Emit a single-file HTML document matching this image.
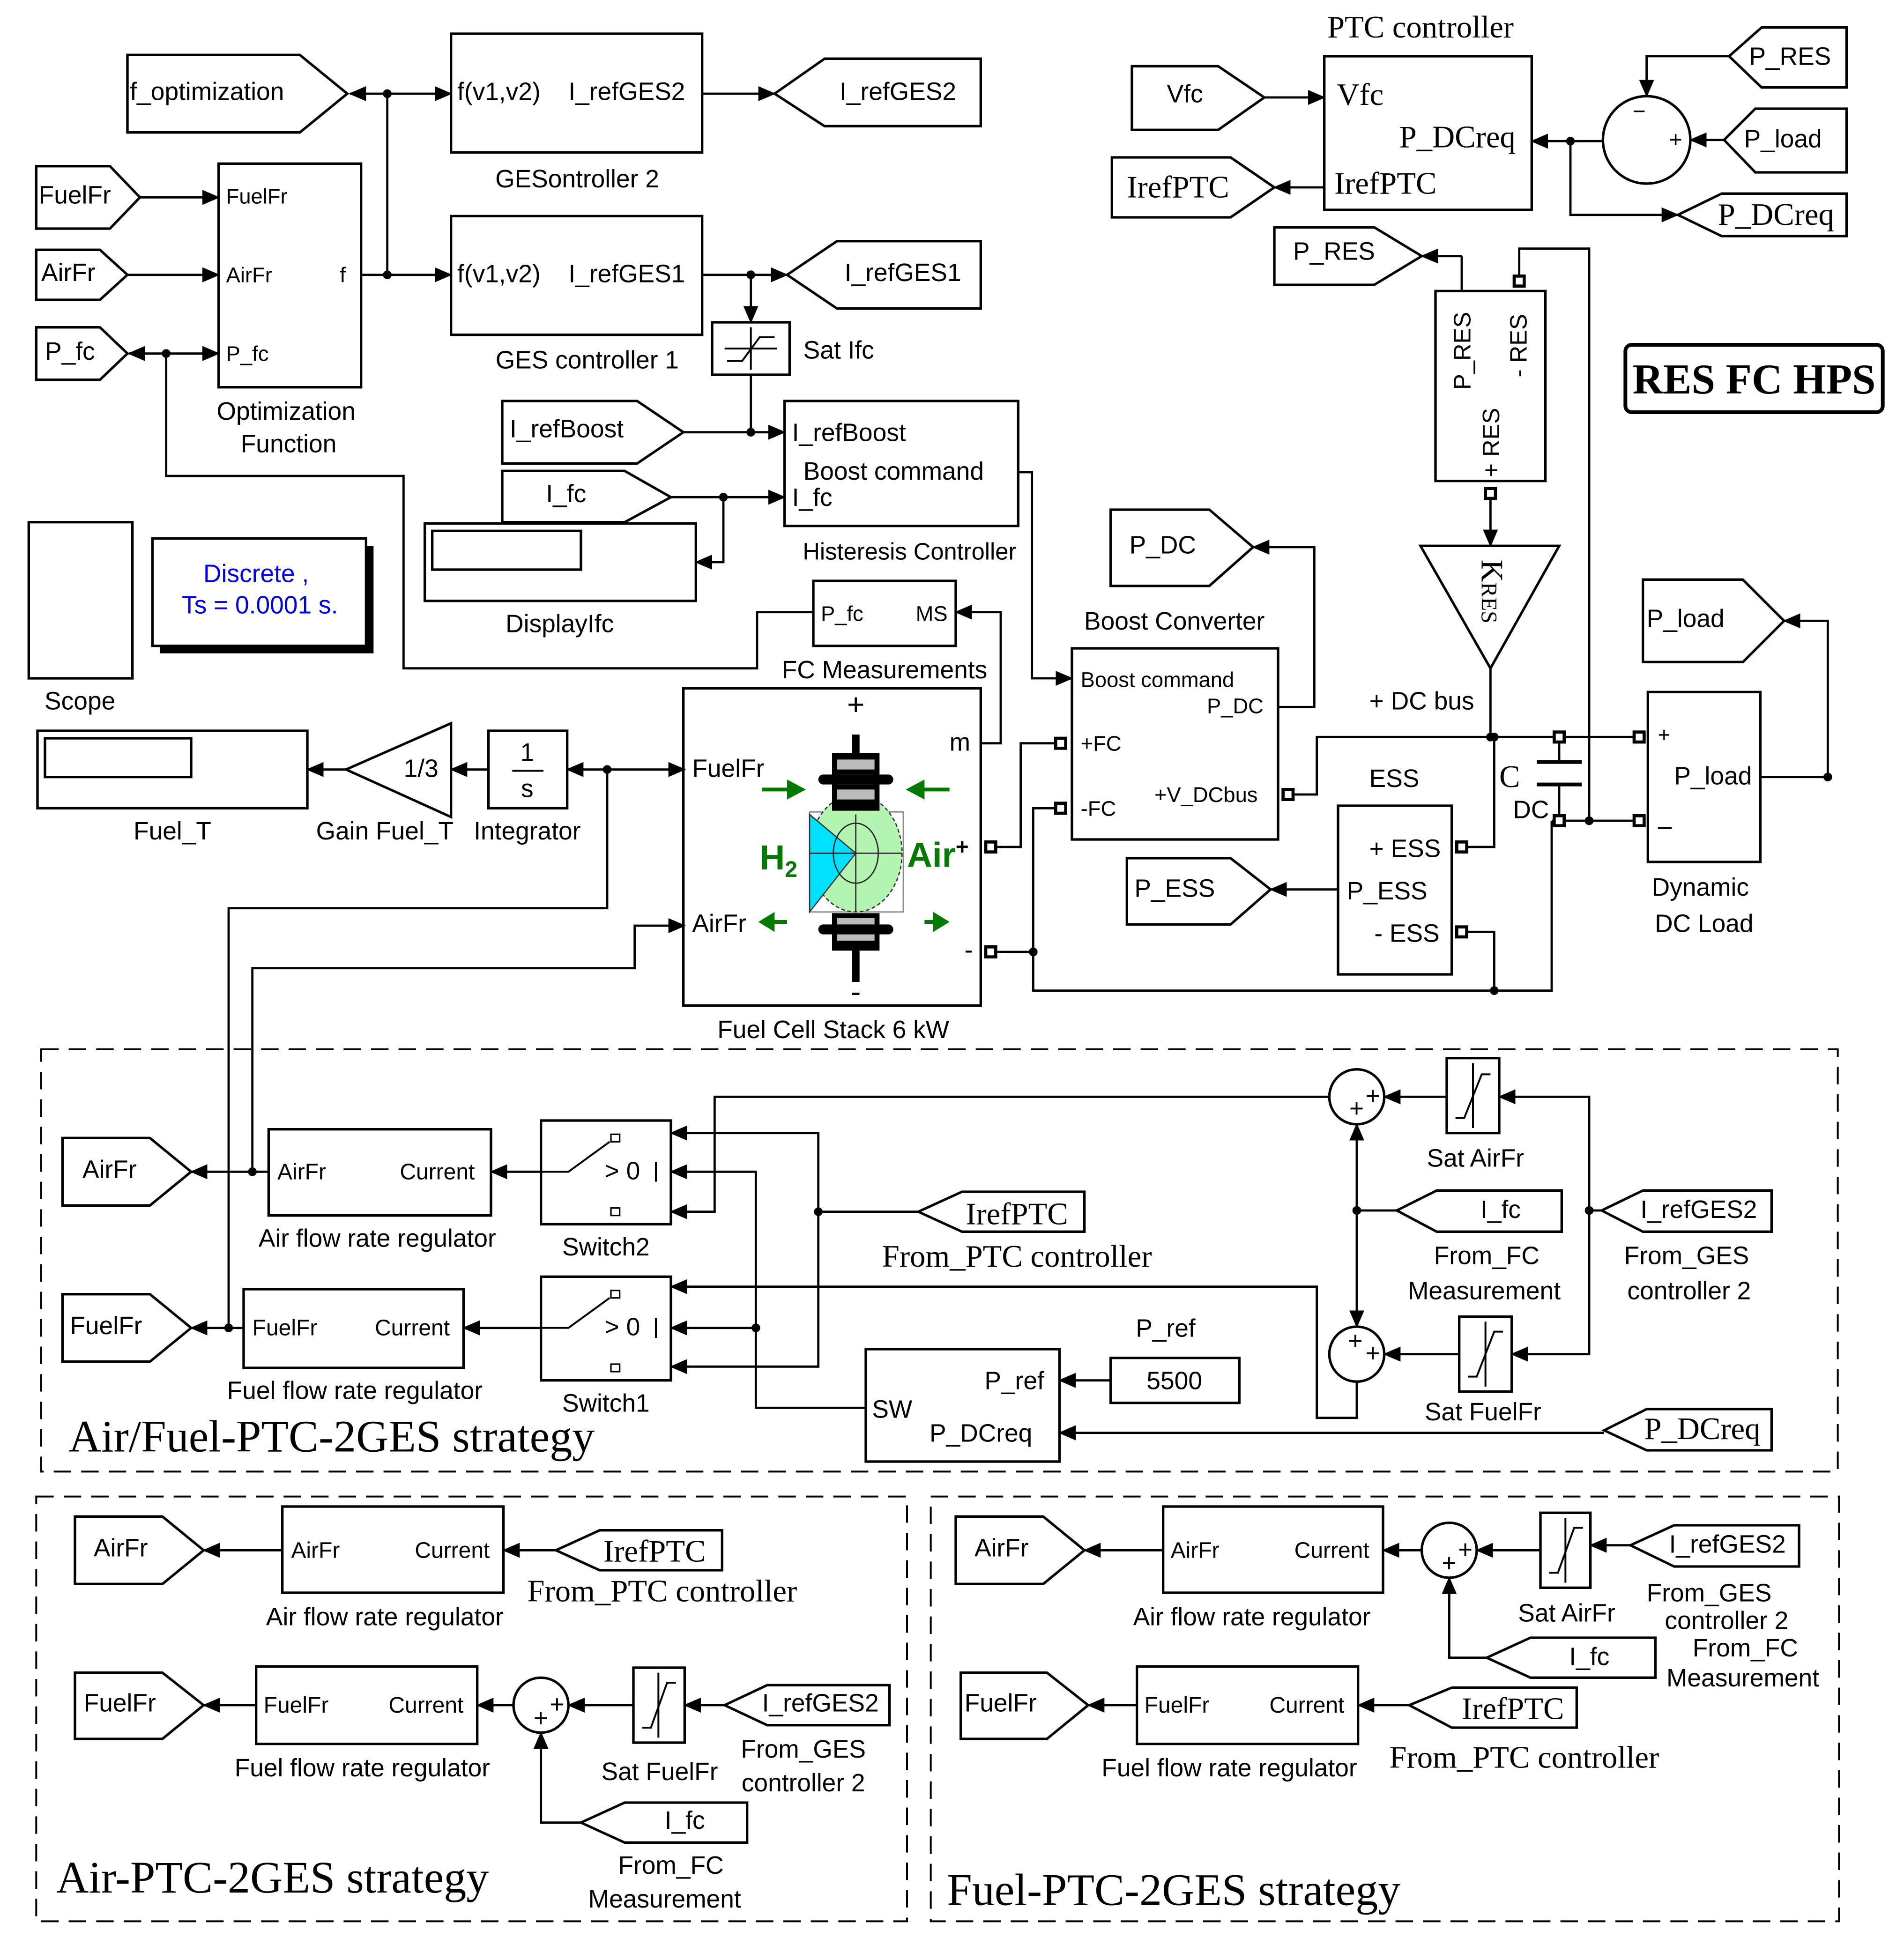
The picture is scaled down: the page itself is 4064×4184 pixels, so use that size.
<!DOCTYPE html>
<html><head><meta charset="utf-8"><style>
html,body{margin:0;padding:0;background:#fff;}
svg{display:block;}
text{font-family:"Liberation Sans",sans-serif;font-size:20px;fill:#000;}
.s{font-family:"Liberation Serif",serif;font-size:25px;}
.b{font-size:36px;font-family:"Liberation Serif",serif;}
.c{text-anchor:middle;}
</style></head><body>
<svg width="4064" height="4184" viewBox="0 0 1524 1569" xmlns="http://www.w3.org/2000/svg">
<defs>
<marker id="a" markerUnits="userSpaceOnUse" markerWidth="14" markerHeight="12" refX="13" refY="6" orient="auto"><path d="M0,0 L14,6 L0,12 z" fill="#000"/></marker>
</defs>
<rect width="1524" height="1569" fill="#fff"/>
<g fill="none" stroke="#000" stroke-width="2">
<polygon points="102,44 240,44 278,75 240,106 102,106"/>
<polygon points="620,75 660,47 785,47 785,101 660,101"/>
<polygon points="630,220 670,193 785,193 785,247 670,247"/>
<polygon points="29,133 88,133 112,158 88,183 29,183"/>
<polygon points="29,200 80,200 102,220 80,240 29,240"/>
<polygon points="29,262 80,262 102,283 80,304 29,304"/>
<polygon points="402,321 510,321 547,346 510,371 402,371"/>
<polygon points="402,377 500,377 537,398 500,418 402,418"/>
<polygon points="889,408 968,408 1003,438 968,469 889,469"/>
<polygon points="1020,182 1100,182 1138,205 1100,228 1020,228"/>
<polygon points="902,687 985,687 1017,712 985,740 902,740"/>
<polygon points="1315,464 1395,464 1428,497 1395,530 1315,530"/>
<polygon points="906,53 975,53 1012,78 975,104 906,104"/>
<polygon points="890,126 985,126 1020,150 985,174 890,174"/>
<polygon points="1384,45 1410,22 1478,22 1478,70 1410,70"/>
<polygon points="1380,112 1405,87 1478,87 1478,138 1405,138"/>
<polygon points="1343,172 1378,155 1478,155 1478,189 1378,189"/>
<polygon points="1282,969 1315,953 1418,953 1418,986 1315,986"/>
<polygon points="1118,969 1150,953 1250,953 1250,986 1150,986"/>
<polygon points="50,911 120,911 153,938 120,965 50,965"/>
<polygon points="50,1036 120,1036 153,1063 120,1090 50,1090"/>
<polygon points="735,970 770,954 868,954 868,986 770,986"/>
<polygon points="1284,1145 1318,1128 1418,1128 1418,1161 1318,1161"/>
<polygon points="60,1214 130,1214 163,1241 130,1268 60,1268"/>
<polygon points="445,1241 480,1225 578,1225 578,1257 480,1257"/>
<polygon points="60,1339 130,1339 163,1365 130,1392 60,1392"/>
<polygon points="580,1365 614,1349 712,1349 712,1381 614,1381"/>
<polygon points="465,1459 500,1443 598,1443 598,1475 500,1475"/>
<polygon points="765,1214 835,1214 868,1241 835,1268 765,1268"/>
<polygon points="1305,1237 1340,1221 1440,1221 1440,1254 1340,1254"/>
<polygon points="1190,1327 1225,1311 1325,1311 1325,1343 1225,1343"/>
<polygon points="769,1339 838,1339 871,1365 838,1392 769,1392"/>
<polygon points="1128,1365 1162,1351 1262,1351 1262,1383 1162,1383"/>
<rect x="361" y="27" width="201" height="95"/>
<rect x="361" y="173" width="201" height="95"/>
<rect x="175" y="131" width="114" height="179"/>
<rect x="570" y="258" width="62" height="42"/>
<rect x="628" y="321" width="187" height="100"/>
<rect x="340" y="419" width="217" height="62"/>
<rect x="346" y="425" width="119" height="31"/>
<rect x="23" y="418" width="83" height="125"/>
<rect x="30" y="585" width="216" height="62"/>
<rect x="36" y="591" width="117" height="31"/>
<polygon points="361,579 361,654 277,616"/>
<rect x="391" y="585" width="63" height="62"/>
<rect x="547" y="551" width="238" height="254"/>
<rect x="651" y="465" width="114" height="52"/>
<rect x="858" y="519" width="165" height="153"/>
<rect x="1149" y="233" width="88" height="152"/>
<polygon points="1137,437 1248,437 1193,535"/>
<rect x="1071" y="645" width="91" height="135"/>
<rect x="1319" y="554" width="90" height="136"/>
<rect x="1301" y="276" width="206" height="54" rx="5" stroke-width="3"/>
<rect x="1060" y="45" width="166" height="123"/>
<circle cx="1318" cy="112" r="35"/>
<circle cx="1086" cy="878" r="22"/>
<circle cx="1086" cy="1084" r="22"/>
<rect x="1158" y="847" width="42" height="60"/>
<rect x="1168" y="1054" width="42" height="60"/>
<rect x="433" y="897" width="104" height="83"/>
<rect x="433" y="1022" width="104" height="83"/>
<rect x="215" y="904" width="178" height="69"/>
<rect x="195" y="1032" width="176" height="63"/>
<rect x="693" y="1080" width="155" height="90"/>
<rect x="889" y="1087" width="103" height="36"/>
<rect x="226" y="1206" width="177" height="69"/>
<rect x="205" y="1334" width="177" height="62"/>
<circle cx="433" cy="1365" r="22"/>
<rect x="507" y="1335" width="41" height="60"/>
<rect x="931" y="1206" width="176" height="69"/>
<rect x="910" y="1334" width="177" height="62"/>
<circle cx="1160" cy="1241" r="22"/>
<rect x="1233" y="1211" width="40" height="60"/>
<path d="M582,289 L594,289 L608,270 L620,270 M580,279 L622,279 M601,262 L601,296" stroke-width="1.5"/>
<path d="M1165,895 L1172,895 L1186,860 L1193,860 M1179,851 L1179,903" stroke-width="1.5"/>
<path d="M1175,1102 L1182,1102 L1196,1066 L1203,1066 M1189,1058 L1189,1110" stroke-width="1.5"/>
<path d="M514,1383 L521,1383 L534,1347 L541,1347 M527,1339 L527,1391" stroke-width="1.5"/>
<path d="M1240,1259 L1247,1259 L1260,1223 L1267,1223 M1253,1215 L1253,1267" stroke-width="1.5"/>
<line x1="410" y1="617" x2="435" y2="617" stroke-width="1.5"/>
<rect x="33" y="840" width="1438" height="338" stroke-dasharray="14,8" stroke-width="1.5"/>
<rect x="29" y="1198" width="697" height="340" stroke-dasharray="14,8" stroke-width="1.5"/>
<rect x="745" y="1198" width="727" height="340" stroke-dasharray="14,8" stroke-width="1.5"/>
<line x1="1230" y1="610" x2="1266" y2="610" stroke-width="3"/>
<line x1="1230" y1="628" x2="1266" y2="628" stroke-width="3"/>
<!-- switch glyphs -->
<path d="M433,938 L455,938 L488,914 M433,1063 L455,1063 L488,1039 M525,930 L525,946 M525,1055 L525,1071" stroke-width="1.5"/>
<g stroke-width="1.2"><rect x="489" y="908" width="7" height="6"/><rect x="489" y="967" width="7" height="6"/>
<rect x="489" y="1033" width="7" height="6"/><rect x="489" y="1092" width="7" height="6"/></g>
</g>
<rect x="128" y="437" width="171" height="86" fill="#000"/>
<rect x="122" y="431" width="171" height="86" fill="#fff" stroke="#000" stroke-width="2"/>
<g fill="none" stroke="#000" stroke-width="1.8">
<polyline points="289,220 310,220 310,75 280,75" marker-end="url(#a)"/>
<polyline points="310,75 361,75" marker-end="url(#a)"/>
<polyline points="310,220 361,220" marker-end="url(#a)"/>
<polyline points="562,75 620,75" marker-end="url(#a)"/>
<polyline points="562,220 630,220" marker-end="url(#a)"/>
<polyline points="601,220 601,258" marker-end="url(#a)"/>
<polyline points="112,158 175,158" marker-end="url(#a)"/>
<polyline points="102,220 175,220" marker-end="url(#a)"/>
<polyline points="133,283 175,283" marker-end="url(#a)"/>
<polyline points="133,283 103,283" marker-end="url(#a)"/>
<polyline points="651,490 606,490 606,535 323,535 323,381 133,381 133,283"/>
<polyline points="601,300 601,346"/>
<polyline points="547,346 628,346" marker-end="url(#a)"/>
<polyline points="537,398 628,398" marker-end="url(#a)"/>
<polyline points="579,398 579,450 557,450" marker-end="url(#a)"/>
<polyline points="815,378 826,378 826,543 858,543" marker-end="url(#a)"/>
<polyline points="391,616 361,616" marker-end="url(#a)"/>
<polyline points="277,616 246,616" marker-end="url(#a)"/>
<polyline points="486,616 454,616" marker-end="url(#a)"/>
<polyline points="486,616 548,616" marker-end="url(#a)"/>
<polyline points="183,1063 183,727 486,727 486,616"/>
<polyline points="202,938 202,775 508,775 508,741 548,741" marker-end="url(#a)"/>
<polyline points="785,595 801,595 801,490 765,490" marker-end="url(#a)"/>
<polyline points="797,678 817,678 817,595 849,595"/>
<polyline points="797,762 827,762 827,647 849,647"/>
<polyline points="827,762 827,793 1242,793 1242,657"/>
<polyline points="1023,566 1052,566 1052,438 1003,438" marker-end="url(#a)"/>
<polyline points="1031,636 1054,636 1054,590 1312,590"/>
<polyline points="1170,205 1170,233"/>
<polyline points="1170,205 1138,205" marker-end="url(#a)"/>
<polyline points="1216,225 1216,199 1272,199 1272,657"/>
<polyline points="1193,395 1193,437" marker-end="url(#a)"/>
<polyline points="1193,535 1193,590"/>
<polyline points="1248,590 1248,610"/>
<polyline points="1248,628 1248,657"/>
<polyline points="1242,657 1312,657"/>
<polyline points="1170,678 1196,678 1196,590"/>
<polyline points="1170,746 1196,746 1196,793"/>
<polyline points="1071,712 1017,712" marker-end="url(#a)"/>
<polyline points="1409,622 1463,622 1463,497 1428,497" marker-end="url(#a)"/>
<polyline points="1012,78 1060,78" marker-end="url(#a)"/>
<polyline points="1060,150 1020,150" marker-end="url(#a)"/>
<polyline points="1283,113 1226,113" marker-end="url(#a)"/>
<polyline points="1257,113 1257,172 1343,172" marker-end="url(#a)"/>
<polyline points="1384,45 1318,45 1318,77" marker-end="url(#a)"/>
<polyline points="1380,112 1353,112" marker-end="url(#a)"/>
<polyline points="1282,969 1272,969 1272,878 1200,878" marker-end="url(#a)"/>
<polyline points="1272,969 1272,1084 1210,1084" marker-end="url(#a)"/>
<polyline points="1158,878 1108,878" marker-end="url(#a)"/>
<polyline points="1168,1084 1108,1084" marker-end="url(#a)"/>
<polyline points="1118,969 1086,969 1086,900" marker-end="url(#a)"/>
<polyline points="1086,969 1086,1062" marker-end="url(#a)"/>
<polyline points="1064,878 572,878 572,970 537,970" marker-end="url(#a)"/>
<polyline points="1086,1106 1086,1135 1054,1135 1054,1030 537,1030" marker-end="url(#a)"/>
<polyline points="735,970 655,970 655,907 537,907" marker-end="url(#a)"/>
<polyline points="655,970 655,1094 537,1094" marker-end="url(#a)"/>
<polyline points="693,1127 605,1127 605,938 537,938" marker-end="url(#a)"/>
<polyline points="605,1063 537,1063" marker-end="url(#a)"/>
<polyline points="433,938 393,938" marker-end="url(#a)"/>
<polyline points="433,1063 371,1063" marker-end="url(#a)"/>
<polyline points="215,938 153,938" marker-end="url(#a)"/>
<polyline points="195,1063 153,1063" marker-end="url(#a)"/>
<polyline points="889,1105 848,1105" marker-end="url(#a)"/>
<polyline points="1284,1147 848,1147" marker-end="url(#a)"/>
<polyline points="226,1241 163,1241" marker-end="url(#a)"/>
<polyline points="445,1241 403,1241" marker-end="url(#a)"/>
<polyline points="205,1365 163,1365" marker-end="url(#a)"/>
<polyline points="411,1365 382,1365" marker-end="url(#a)"/>
<polyline points="507,1365 455,1365" marker-end="url(#a)"/>
<polyline points="580,1365 548,1365" marker-end="url(#a)"/>
<polyline points="465,1459 433,1459 433,1387" marker-end="url(#a)"/>
<polyline points="931,1241 868,1241" marker-end="url(#a)"/>
<polyline points="1138,1241 1107,1241" marker-end="url(#a)"/>
<polyline points="1233,1241 1182,1241" marker-end="url(#a)"/>
<polyline points="1305,1237 1273,1237" marker-end="url(#a)"/>
<polyline points="1190,1327 1160,1327 1160,1263" marker-end="url(#a)"/>
<polyline points="910,1365 871,1365" marker-end="url(#a)"/>
<polyline points="1128,1365 1087,1365" marker-end="url(#a)"/>
</g>
<g fill="#000">
<circle cx="310" cy="75" r="3.5"/><circle cx="310" cy="220" r="3.5"/><circle cx="601" cy="220" r="3.5"/>
<circle cx="601" cy="346" r="3.5"/><circle cx="579" cy="398" r="3.5"/><circle cx="133" cy="283" r="3.5"/>
<circle cx="486" cy="616" r="3.5"/><circle cx="827" cy="762" r="3.5"/><circle cx="1196" cy="793" r="3.5"/>
<circle cx="1196" cy="590" r="3.5"/><circle cx="1193" cy="590" r="3.5"/><circle cx="1272" cy="657" r="3.5"/>
<circle cx="1463" cy="622" r="3.5"/><circle cx="1257" cy="113" r="3.5"/><circle cx="1272" cy="969" r="3.5"/>
<circle cx="1086" cy="969" r="3.5"/><circle cx="655" cy="970" r="3.5"/><circle cx="605" cy="1063" r="3.5"/>
<circle cx="202" cy="938" r="3.5"/><circle cx="183" cy="1063" r="3.5"/>
</g>
<g fill="#fff" stroke="#000" stroke-width="2.5">
<rect x="789" y="674" width="8" height="8"/><rect x="789" y="758" width="8" height="8"/>
<rect x="845" y="591" width="8" height="8"/><rect x="845" y="643" width="8" height="8"/>
<rect x="1027" y="632" width="8" height="8"/>
<rect x="1166" y="674" width="8" height="8"/><rect x="1166" y="742" width="8" height="8"/>
<rect x="1244" y="586" width="8" height="8"/><rect x="1244" y="653" width="8" height="8"/>
<rect x="1308" y="586" width="8" height="8"/><rect x="1308" y="653" width="8" height="8"/>
<rect x="1212" y="221" width="8" height="8"/><rect x="1189" y="391" width="8" height="8"/>
</g>
<rect x="648" y="650" width="75" height="80" fill="#fff" stroke="#888" stroke-width="1"/>
<ellipse cx="685" cy="683" rx="37" ry="47" fill="#b3f5b0" stroke="#333" stroke-width="1" stroke-dasharray="3,2"/>
<polygon points="648,652 685,683 648,730" fill="#00e0ff" stroke="#333" stroke-width="1"/>
<g stroke="#222" stroke-width="1" fill="none"><line x1="648" y1="683" x2="722" y2="683"/><line x1="685" y1="652" x2="685" y2="730"/><ellipse cx="685" cy="683" rx="18" ry="24"/></g>
<rect x="666" y="603" width="38" height="46" fill="#000"/>
<rect x="670" y="608" width="30" height="8" fill="#bbb"/><rect x="670" y="620" width="30" height="8" fill="#bbb"/><rect x="670" y="632" width="30" height="8" fill="#bbb"/>
<rect x="655" y="620" width="60" height="8" rx="4" fill="#000"/><rect x="682" y="588" width="6" height="18" fill="#000"/>
<rect x="666" y="731" width="38" height="30" fill="#000"/>
<rect x="670" y="735" width="30" height="7" fill="#bbb"/><rect x="670" y="746" width="30" height="7" fill="#bbb"/>
<rect x="655" y="740" width="60" height="8" rx="4" fill="#000"/><rect x="682" y="758" width="6" height="28" fill="#000"/>
<g stroke="#007a00" stroke-width="3" fill="#007a00">
<line x1="610" y1="632" x2="632" y2="632"/><polygon points="645,632 630,624 630,640" stroke="none"/>
<line x1="760" y1="632" x2="738" y2="632"/><polygon points="725,632 740,624 740,640" stroke="none"/>
<line x1="630" y1="738" x2="612" y2="738"/><polygon points="607,738 620,730 620,746" stroke="none"/>
<line x1="740" y1="738" x2="752" y2="738"/><polygon points="760,738 747,730 747,746" stroke="none"/>
</g>
<text x="608" y="696" style="font-size:28px;font-weight:bold;fill:#007a00">H<tspan style="font-size:18px" dy="6">2</tspan></text>
<text x="726" y="694" style="font-size:28px;font-weight:bold;fill:#007a00">Air<tspan style="font-size:18px" dy="-10" fill="#000">+</tspan></text>
<text x="104" y="80">f_optimization</text>
<text x="366" y="80">f(v1,v2)</text><text x="455" y="80">I_refGES2</text>
<text x="462" y="150" class="c">GESontroller 2</text>
<text x="672" y="80">I_refGES2</text>
<text x="366" y="226">f(v1,v2)</text><text x="455" y="226">I_refGES1</text>
<text x="470" y="295" class="c">GES controller 1</text>
<text x="676" y="225">I_refGES1</text>
<text x="643" y="287">Sat Ifc</text>
<text x="31" y="163">FuelFr</text><text x="33" y="225">AirFr</text><text x="36" y="288">P_fc</text>
<text x="181" y="163" style="font-size:17px">FuelFr</text><text x="181" y="226" style="font-size:17px">AirFr</text>
<text x="272" y="226" style="font-size:17px">f</text><text x="181" y="289" style="font-size:17px">P_fc</text>
<text x="229" y="336" class="c">Optimization</text><text x="231" y="362" class="c">Function</text>
<text x="408" y="350">I_refBoost</text><text x="437" y="402">I_fc</text>
<text x="634" y="353">I_refBoost</text><text x="643" y="384">Boost  command</text><text x="634" y="405">I_fc</text>
<text x="728" y="448" class="c" style="font-size:19px">Histeresis Controller</text>
<text x="448" y="506" class="c">DisplayIfc</text>
<text x="64" y="568" class="c">Scope</text>
<text x="205" y="466" class="c" style="fill:#0000ee">Discrete ,</text>
<text x="208" y="491" class="c" style="fill:#0000ee">Ts = 0.0001 s.</text>
<text x="337" y="622" class="c">1/3</text>
<text x="422" y="609" class="c">1</text><text x="422" y="638" class="c">s</text>
<text x="138" y="672" class="c">Fuel_T</text><text x="308" y="672" class="c">Gain Fuel_T</text><text x="422" y="672" class="c">Integrator</text>
<text x="685" y="572" class="c" style="font-size:24px">+</text><text x="685" y="802" class="c" style="font-size:24px">-</text>
<text x="554" y="622">FuelFr</text><text x="554" y="746">AirFr</text><text x="760" y="601">m</text><text x="772" y="767">-</text>
<text x="667" y="831" class="c">Fuel Cell Stack 6 kW</text>
<text x="657" y="497" style="font-size:17px">P_fc</text><text x="733" y="497" style="font-size:17px">MS</text>
<text x="708" y="543" class="c">FC Measurements</text>
<text x="940" y="504" class="c">Boost Converter</text>
<text x="865" y="550" style="font-size:17px">Boost command</text><text x="966" y="571" style="font-size:17px">P_DC</text>
<text x="865" y="601" style="font-size:17px">+FC</text><text x="865" y="653" style="font-size:17px">-FC</text>
<text x="924" y="642" style="font-size:17px">+V_DCbus</text>
<text x="904" y="443">P_DC</text>
<text x="1035" y="208">P_RES</text>
<text x="1138" y="568" class="c">+ DC bus</text>
<text x="1116" y="630" class="c">ESS</text>
<text x="1096" y="686">+ ESS</text><text x="1078" y="720">P_ESS</text><text x="1100" y="754">- ESS</text>
<text x="908" y="718">P_ESS</text>
<text x="1200" y="630" class="s">C</text><text x="1211" y="655">DC</text>
<text x="1327" y="594" style="font-size:17px">+</text><text x="1340" y="628">P_load</text><text x="1327" y="668">–</text>
<text x="1361" y="717" class="c">Dynamic</text><text x="1364" y="746" class="c">DC Load</text>
<text x="1318" y="502">P_load</text>
<text x="1404" y="315" class="c" style="font-family:'Liberation Serif',serif;font-size:34px;font-weight:bold">RES FC HPS</text>
<text transform="translate(1177,312) rotate(-90)" style="font-size:19px">P_RES</text>
<text transform="translate(1222,302) rotate(-90)" style="font-size:19px">- RES</text>
<text transform="translate(1200,382) rotate(-90)" style="font-size:19px">+ RES</text>
<text transform="translate(1186,448) rotate(90)" class="s">K<tspan style="font-size:18px">RES</tspan></text>
<text x="1137" y="30" class="s c">PTC controller</text>
<text x="1070" y="84" class="s">Vfc</text><text x="1120" y="118" class="s">P_DCreq</text><text x="1068" y="155" class="s">IrefPTC</text>
<text x="934" y="82">Vfc</text><text x="902" y="158" class="s">IrefPTC</text>
<text x="1400" y="52">P_RES</text><text x="1396" y="118">P_load</text><text x="1375" y="180" class="s">P_DCreq</text>
<text x="1312" y="95" class="c" style="font-size:18px">−</text><text x="1336" y="118" style="font-size:18px">+</text>
<g style="font-size:14px"><text x="1093" y="884">+</text><text x="1080" y="894">+</text>
<text x="1093" y="1090">+</text><text x="1079" y="1080">+</text>
<text x="440" y="1371">+</text><text x="427" y="1382">+</text>
<text x="1167" y="1247">+</text><text x="1154" y="1258">+</text></g>
<text x="1181" y="934" class="c">Sat AirFr</text><text x="1187" y="1137" class="c">Sat FuelFr</text>
<text x="1313" y="975">I_refGES2</text><text x="1185" y="975">I_fc</text>
<text x="1350" y="1012" class="c">From_GES</text><text x="1352" y="1040" class="c">controller 2</text>
<text x="1190" y="1012" class="c">From_FC</text><text x="1188" y="1040" class="c">Measurement</text>
<text x="484" y="944">&gt; 0</text><text x="484" y="1069">&gt; 0</text>
<text x="485" y="1005" class="c">Switch2</text><text x="485" y="1130" class="c">Switch1</text>
<text x="222" y="944" style="font-size:18px">AirFr</text><text x="320" y="944" style="font-size:18px">Current</text>
<text x="302" y="998" class="c">Air flow rate regulator</text>
<text x="202" y="1069" style="font-size:18px">FuelFr</text><text x="300" y="1069" style="font-size:18px">Current</text>
<text x="284" y="1120" class="c">Fuel flow rate regulator</text>
<text x="66" y="943">AirFr</text><text x="56" y="1068">FuelFr</text>
<text x="773" y="980" class="s">IrefPTC</text>
<text x="814" y="1014" class="s c">From_PTC controller</text>
<text x="698" y="1135">SW</text><text x="788" y="1112">P_ref</text><text x="744" y="1154">P_DCreq</text>
<text x="933" y="1070" class="c">P_ref</text><text x="940" y="1112" class="c">5500</text>
<text x="1316" y="1152" class="s">P_DCreq</text>
<text x="55" y="1162" class="b">Air/Fuel-PTC-2GES strategy</text>
<text x="75" y="1246">AirFr</text><text x="67" y="1370">FuelFr</text>
<text x="233" y="1247" style="font-size:18px">AirFr</text><text x="332" y="1247" style="font-size:18px">Current</text>
<text x="308" y="1301" class="c">Air flow rate regulator</text>
<text x="483" y="1250" class="s">IrefPTC</text>
<text x="530" y="1282" class="s c">From_PTC controller</text>
<text x="211" y="1371" style="font-size:18px">FuelFr</text><text x="311" y="1371" style="font-size:18px">Current</text>
<text x="290" y="1422" class="c">Fuel flow rate regulator</text>
<text x="528" y="1425" class="c">Sat FuelFr</text>
<text x="610" y="1370">I_refGES2</text>
<text x="643" y="1407" class="c">From_GES</text><text x="643" y="1434" class="c">controller 2</text>
<text x="532" y="1464">I_fc</text>
<text x="537" y="1500" class="c">From_FC</text><text x="532" y="1527" class="c">Measurement</text>
<text x="45" y="1515" class="b">Air-PTC-2GES strategy</text>
<text x="780" y="1246">AirFr</text><text x="772" y="1370">FuelFr</text>
<text x="937" y="1247" style="font-size:18px">AirFr</text><text x="1036" y="1247" style="font-size:18px">Current</text>
<text x="1002" y="1301" class="c">Air flow rate regulator</text>
<text x="916" y="1371" style="font-size:18px">FuelFr</text><text x="1016" y="1371" style="font-size:18px">Current</text>
<text x="984" y="1422" class="c">Fuel flow rate regulator</text>
<text x="1254" y="1298" class="c">Sat AirFr</text>
<text x="1336" y="1243">I_refGES2</text><text x="1256" y="1333">I_fc</text>
<text x="1368" y="1282" class="c">From_GES</text><text x="1382" y="1304" class="c">controller 2</text>
<text x="1397" y="1326" class="c">From_FC</text><text x="1395" y="1350" class="c">Measurement</text>
<text x="1170" y="1376" class="s">IrefPTC</text>
<text x="1220" y="1415" class="s c">From_PTC controller</text>
<text x="758" y="1525" class="b">Fuel-PTC-2GES strategy</text>
</svg>
</body></html>
